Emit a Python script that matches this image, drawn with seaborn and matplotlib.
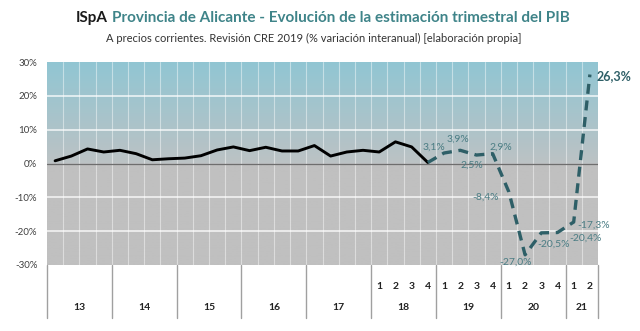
# Provincia de Alicante - estimacion trimestral del PIB

import numpy as np
import matplotlib.pyplot as plt
import matplotlib.transforms as mtransforms
from matplotlib.colors import to_rgb
import seaborn as sns

# Data
years = ['13', '14', '15', '16', '17', '18', '19', '20', '21']
quarters_per_year = [4, 4, 4, 4, 4, 4, 4, 4, 2]
show_quarters = [False, False, False, False, False, True, True, True, True]

# 2013Q1 .. 2018Q4 (solid)
observed = [0.8, 2.2, 4.3, 3.4, 3.9, 2.9, 1.1, 1.4, 1.6, 2.3, 4.0, 4.9,
            3.8, 4.8, 3.7, 3.7, 5.3, 2.2, 3.4, 3.9, 3.4, 6.4, 4.9, 0.3]
# 2018Q4 .. 2021Q2 (dashed estimate)
estimate = [0.3, 3.1, 3.9, 2.5, 2.9, -8.4, -27.0, -20.5, -20.4, -17.3, 26.3]
estimate_labels = ['3,1%', '3,9%', '2,5%', '2,9%', '-8,4%', '-27,0%',
                   '-20,5%', '-20,4%', '-17,3%', '26,3%']

n_q = sum(quarters_per_year)
x_obs = np.arange(len(observed)) + 0.5
x_est = np.arange(len(observed) - 1, len(observed) - 1 + len(estimate)) + 0.5

sns.set_style('white')
plt.rcParams['font.family'] = ['Lato', 'DejaVu Sans']

fig = plt.figure(figsize=(6.4, 3.31), dpi=100)
ax = fig.add_axes([47 / 640, 66 / 331, 551 / 640, 203 / 331])

# background gradient: teal at top to grey at 0, grey below
top = np.array(to_rgb('#91c6d3'))
mid = np.array(to_rgb('#bcc2c4'))
grey = np.array(to_rgb('#c0c0c0'))
yy = np.linspace(30, -30, 300)
grad = np.zeros((300, 1, 3))
for k, v in enumerate(yy):
    if v >= 0:
        t = v / 30
        grad[k, 0] = mid * (1 - t) + top * t
    else:
        grad[k, 0] = grey
ax.imshow(grad, extent=[0, n_q, -30, 30], aspect='auto', zorder=0)

ax.set_xlim(0, n_q)
ax.set_ylim(-30, 30)

for q in range(1, n_q):
    ax.axvline(q, color='white', lw=0.8, alpha=0.45, zorder=1)
for v in [-20, -10, 10, 20]:
    ax.axhline(v, color='white', lw=1.2, alpha=0.8, zorder=1)
ax.axhline(0, color='#6e6e6e', lw=0.9, zorder=2)

sns.lineplot(x=x_obs, y=observed, ax=ax, color='black', lw=2.1, zorder=3)
sns.lineplot(x=x_est, y=estimate, ax=ax, color='#2e5f67', lw=2.4,
             linestyle=(0, (3, 2)), zorder=3)

# value labels
offsets = [(-7, 4), (-1.5, 8), (-3, -7), (6, 4.5), (-17, -4), (-6.5, -5),
           (9, -8.5), (20.5, -4), (14.5, -2), (5, -1)]
for k, (lab, off) in enumerate(zip(estimate_labels, offsets)):
    last = k == len(estimate_labels) - 1
    ax.annotate(lab, (x_est[k + 1], estimate[k + 1]), xytext=off,
                textcoords='offset points', fontsize=9 if last else 7.5,
                color='#2e5f67' if last else '#4b7d84',
                fontweight='bold' if last else 'normal',
                ha='left' if last else 'center', va='center',
                annotation_clip=False, zorder=4)

ax.set_yticks([-30, -20, -10, 0, 10, 20, 30])
ax.set_yticklabels([f'{v}%' for v in [-30, -20, -10, 0, 10, 20, 30]],
                   fontsize=7, color='#404040')
ax.tick_params(axis='y', length=0, pad=7)
ax.set_xticks([])
for s in ax.spines.values():
    s.set_visible(False)

# category table under the plot
trans = mtransforms.blended_transform_factory(ax.transData, ax.transAxes)
edges = np.concatenate([[0], np.cumsum(quarters_per_year)])
for e in edges:
    ax.plot([e, e], [0, -0.26], transform=trans, color='#a0a0a0', lw=1.0,
            clip_on=False)
for i, yr in enumerate(years):
    left, right = edges[i], edges[i + 1]
    ax.text((left + right) / 2, -0.21, yr, transform=trans, ha='center',
            va='center', fontsize=7.5, fontweight='bold', color='#222222')
    if show_quarters[i]:
        for q in range(quarters_per_year[i]):
            ax.text(left + q + 0.5, -0.105, str(q + 1), transform=trans,
                    ha='center', va='center', fontsize=7.5, fontweight='bold',
                    color='#222222')

# titles
t1 = fig.text(76 / 640, 1 - 18 / 331, 'ISpA', fontsize=11, fontweight='bold',
              color='#1a1a1a', ha='left', va='center')
fig.canvas.draw()
bb = t1.get_window_extent()
fig.text((bb.x1 + 4) / 640, 1 - 18 / 331,
         'Provincia de Alicante - Evolución de la estimación trimestral del PIB',
         fontsize=11, fontweight='bold', color='#3f8489', ha='left', va='center')
fig.text(314 / 640, 1 - 38 / 331,
         'A precios corrientes. Revisión CRE 2019 (% variación interanual) [elaboración propia]',
         fontsize=8, color='#333333', ha='center', va='center')

fig.savefig('out.png', dpi=100)
